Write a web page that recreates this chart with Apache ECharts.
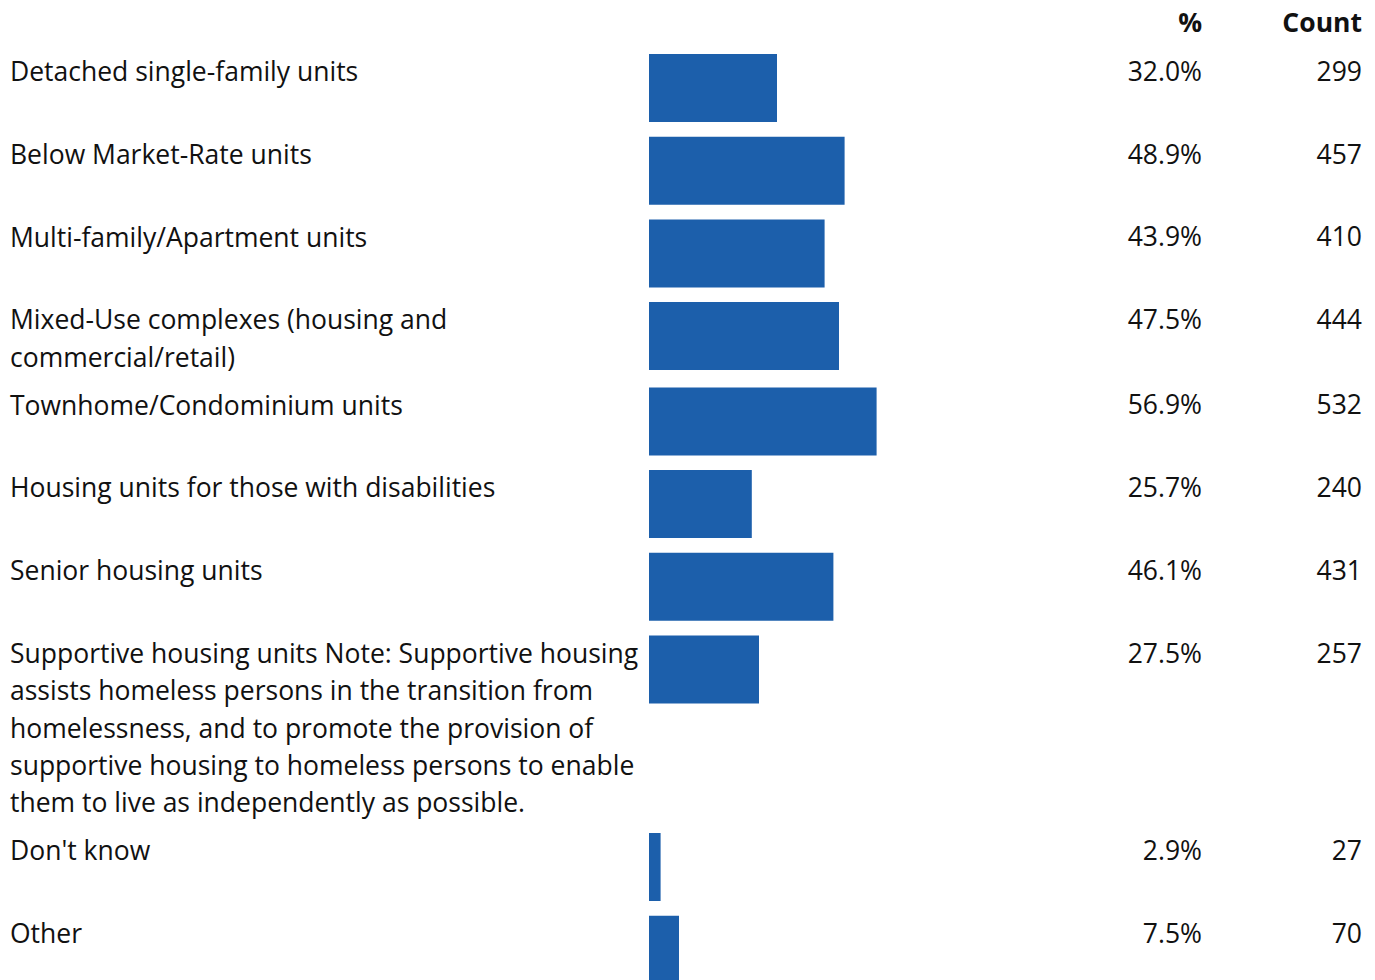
<!DOCTYPE html>
<html><head><meta charset="utf-8">
<script src="https://cdn.jsdelivr.net/npm/echarts@6/dist/echarts.min.js"></script>
<style>html,body{margin:0;padding:0;background:#fff}#c{width:1375px;height:980px}</style>
</head><body><div id="c"></div>
<script>
const categories = [
  "Detached single-family units",
  "Below Market-Rate units",
  "Multi-family/Apartment units",
  "Mixed-Use complexes (housing and\ncommercial/retail)",
  "Townhome/Condominium units",
  "Housing units for those with disabilities",
  "Senior housing units",
  "Supportive housing units Note: Supportive housing\nassists homeless persons in the transition from\nhomelessness, and to promote the provision of\nsupportive housing to homeless persons to enable\nthem to live as independently as possible.",
  "Don't know",
  "Other"
];
const percents = [32.0, 48.9, 43.9, 47.5, 56.9, 25.7, 46.1, 27.5, 2.9, 7.5];
const counts = [299, 457, 410, 444, 532, 240, 431, 257, 27, 70];
const headers = ["%", "Count"];

const FONT = "'Open Sans'";
const FS = 26.5;
const LINE = 37.4;
const barColor = "#1c5fab";
const barLeft = 649, barW = 400, barH = 68;
const firstTop = 54;

const grids = [], xAxes = [], yAxes = [], seriesList = [], graphics = [];
let rowTop = firstTop;
categories.forEach((cat, i) => {
  grids.push({left: barLeft, width: barW, top: rowTop, height: barH});
  xAxes.push({gridIndex: i, type: 'value', min: 0, max: 100, show: false});
  yAxes.push({gridIndex: i, type: 'category', data: [cat], show: false});
  seriesList.push({type: 'bar', xAxisIndex: i, yAxisIndex: i, data: [percents[i]],
    barWidth: '100%', itemStyle: {color: barColor}, silent: true});
  graphics.push({type: 'text', x: 10, y: rowTop - 1.5,
    style: {text: cat, font: FS + 'px ' + FONT, lineHeight: LINE, fill: '#111', verticalAlign: 'top'}});
  graphics.push({type: 'text', x: 1202, y: rowTop + 17,
    style: {text: percents[i].toFixed(1) + '%', font: FS + 'px ' + FONT, fill: '#111', align: 'right', verticalAlign: 'middle'}});
  graphics.push({type: 'text', x: 1362, y: rowTop + 17,
    style: {text: String(counts[i]), font: FS + 'px ' + FONT, fill: '#111', align: 'right', verticalAlign: 'middle'}});
  const lines = cat.split('\n').length;
  rowTop += Math.max(82.7, lines * LINE + 10.5);
});
graphics.push({type: 'text', x: 1202, y: 22,
  style: {text: headers[0], font: 'bold ' + FS + 'px ' + FONT, fill: '#111', align: 'right', verticalAlign: 'middle'}});
graphics.push({type: 'text', x: 1362, y: 22,
  style: {text: headers[1], font: 'bold ' + FS + 'px ' + FONT, fill: '#111', align: 'right', verticalAlign: 'middle'}});

const chart = echarts.init(document.getElementById('c'), null, {renderer: 'svg'});
chart.setOption({
  animation: false,
  grid: grids, xAxis: xAxes, yAxis: yAxes, series: seriesList,
  graphic: graphics
});
</script></body></html>
